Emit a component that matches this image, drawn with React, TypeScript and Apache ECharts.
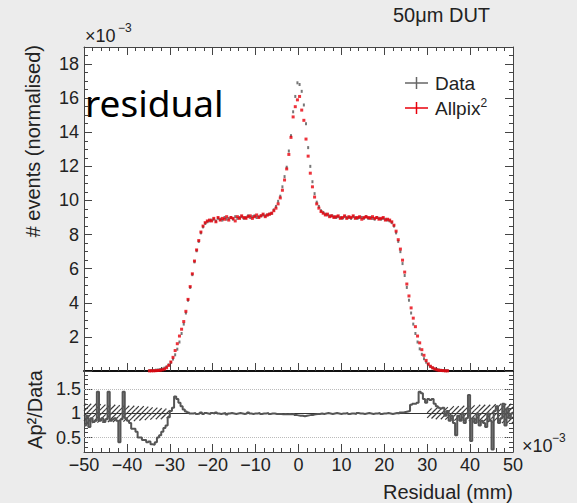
import React, { useEffect, useRef } from 'react';
import * as echarts from 'echarts';

// Main histogram: 0.5 mm bins, centres from -34.75 to 34.75 (values x 10^-3)
const MAIN_START = -34.75;
const BIN = 0.5;
const dataValues = [
  0.02, 0.03, 0.03, 0.05, 0.06, 0.09, 0.12, 0.17, 0.25, 0.36,
  0.5, 0.7, 0.95, 1.28, 1.7, 2.2, 2.75, 3.4, 4.15, 4.9, 5.65, 6.4, 7.05, 7.6, 8.1, 8.45, 8.65, 8.75,
  8.8, 8.85, 8.9, 8.8, 8.95, 8.9, 8.85, 9.0, 8.9, 8.95, 9.0, 8.9, 9.05, 8.95, 9.0, 9.05, 8.95, 9.0, 9.1, 9.0, 9.05, 9.1, 9.0, 9.05, 9.1, 9.15, 9.1, 9.15, 9.2, 9.25,
  9.45, 9.65, 9.95, 10.25, 10.8, 11.4, 11.95, 12.9, 13.8, 15.2, 16.1, 16.9, 16.8, 16.4, 15.6, 14.5, 13.1, 12.0, 11.1, 10.4, 9.9, 9.65, 9.4, 9.3,
  9.2, 9.15, 9.1, 9.1, 9.05, 9.0, 9.05, 9.0, 8.95, 9.05, 9.0, 9.0, 8.95, 9.05, 9.0, 8.95, 9.0, 9.0, 8.95, 9.05, 8.95, 9.0, 8.95, 8.9, 9.0, 8.95, 8.9, 8.95, 8.9, 8.85,
  8.8, 8.7, 8.5, 8.1, 7.6, 7.0, 6.3, 5.6, 4.9, 4.15, 3.4, 2.75, 2.2, 1.7, 1.3, 0.98, 0.72, 0.52, 0.37, 0.26, 0.18, 0.12, 0.08, 0.06, 0.04, 0.03, 0.02, 0.02,
];
const allpixValues = [
  0.01, 0.01, 0.01, 0.02, 0.03, 0.04, 0.07, 0.11, 0.19, 0.33,
  0.53, 0.8, 1.2, 1.6, 2.05, 2.45, 2.9, 3.5, 4.2, 4.95, 5.7, 6.45, 7.1, 7.65, 8.15, 8.5, 8.7, 8.8,
  8.85, 8.8, 8.95, 8.75, 9.0, 8.85, 8.95, 8.9, 9.05, 8.85, 9.0, 8.95, 8.8, 9.05, 8.95, 9.1, 9.0, 8.95, 9.05, 9.1, 8.95, 9.05, 9.15, 9.0, 9.1, 9.2, 9.05, 9.15, 9.2, 9.25,
  9.4, 9.55, 9.8, 10.15, 10.6, 11.2, 11.85, 12.7, 13.7, 14.9, 15.5, 15.9, 16.1, 15.3, 14.7, 13.6, 12.6, 11.6, 10.8, 10.2, 9.8, 9.55, 9.35, 9.25,
  9.15, 9.2, 9.05, 9.1, 9.0, 9.05, 9.1, 8.95, 9.0, 9.1, 8.95, 9.05, 9.0, 9.1, 8.95, 9.0, 9.05, 8.9, 9.0, 9.05, 9.0, 8.95, 9.05, 8.95, 9.0, 8.9, 8.95, 9.0, 8.85, 8.9,
  8.85, 8.75, 8.55, 8.2, 7.7, 7.15, 6.5, 5.8, 5.1, 4.4, 3.7, 3.1, 2.6, 2.05, 1.65, 1.25, 0.92, 0.62, 0.42, 0.28, 0.19, 0.12, 0.07, 0.04, 0.03, 0.02, 0.01, 0.01,
];

// Ratio histogram: 0.5 mm bins, left edges from -50
const RATIO_START = -50;
const ratioValues = [
  0.75, 0.95, 0.72, 0.9, 0.82, 0.85, 1.45, 0.85, 0.9, 0.82,
  0.88, 1.45, 0.85, 0.88, 0.9, 0.85, 0.4, 0.88, 1.45, 0.9,
  0.85, 0.8, 0.68, 0.68, 0.62, 0.5, 0.5, 0.45, 0.45, 0.4,
  0.42, 0.36, 0.35, 0.4, 0.5, 0.55, 0.62, 0.7, 0.75, 0.92,
  1.05, 1.12, 1.35, 1.3, 1.22, 1.15, 1.08, 1.04, 1.02, 1.0,
  1.0, 1.01, 0.99, 1.0, 1.02, 0.99, 1.01, 1.0, 0.99, 1.01,
  1.0, 1.02, 1.0, 0.99, 1.0, 1.01, 0.98, 1.0, 1.01, 1.0,
  0.99, 1.0, 1.01, 1.0, 0.99, 1.0, 1.02, 1.0, 0.99, 1.0,
  1.0, 1.01, 0.99, 1.0, 1.0, 1.01, 0.99, 1.0, 1.0, 0.99,
  0.99, 0.99, 0.98, 0.99, 0.98, 0.99, 0.98, 0.99, 0.97, 0.96,
  0.95, 0.95, 0.94, 0.95, 0.96, 0.97, 0.97, 0.98, 0.99, 0.99,
  1.0, 0.99, 1.0, 1.01, 1.0, 0.99, 1.0, 1.01, 1.0, 0.99,
  1.0, 1.0, 1.01, 0.99, 1.0, 1.0, 0.99, 1.01, 1.0, 1.0,
  0.99, 1.0, 1.01, 1.0, 0.99, 1.0, 1.0, 1.01, 0.99, 1.0,
  1.0, 1.01, 1.0, 0.99, 1.0, 1.01, 1.0, 1.02, 1.02, 1.03,
  1.04, 1.05, 1.18, 1.2, 1.2, 1.22, 1.45, 1.42, 1.3, 1.22,
  1.3, 1.28, 1.3, 1.2, 1.15, 1.12, 1.1, 1.12, 0.95, 1.05,
  0.85, 0.95, 0.8, 0.55, 0.95, 0.85, 1.0, 0.8, 0.9, 1.38,
  0.43, 0.9, 0.8, 1.0, 0.75, 0.85, 0.8, 0.72, 1.0, 0.85,
  0.25, 1.05, 1.15, 0.8, 0.9, 1.2, 0.75, 1.1, 0.9, 1.0,
];

// Hatched uncertainty band (half widths), 1 mm bins
const bandLeftStart = -49.5;
const bandLeftHalf = [0.2, 0.2, 0.2, 0.19, 0.19, 0.18, 0.18, 0.18, 0.17, 0.17, 0.16, 0.16, 0.15, 0.15, 0.14, 0.13, 0.12, 0.12, 0.11, 0.1];
const bandRightStart = 30.5;
const bandRightHalf = [0.1, 0.11, 0.12, 0.12, 0.13, 0.14, 0.15, 0.15, 0.16, 0.16, 0.17, 0.17, 0.18, 0.18, 0.18, 0.19, 0.19, 0.2, 0.2, 0.2];

const ratioLabelValues = [0.5, 1, 1.5];
const ratioMinorValues = [0.3, 0.4, 0.6, 0.7, 0.8, 0.9, 1.1, 1.2, 1.3, 1.4, 1.6, 1.7, 1.8];

const FONT = 'Liberation Sans';
const TXT = '#222';
const AX = '#444';

export default function App() {
  const ref = useRef<HTMLDivElement>(null);
  useEffect(() => {
    const chart = echarts.init(ref.current!, null, { renderer: 'svg' });
    const dataPts = dataValues.map((v, i) => [MAIN_START + i * BIN, v]);
    const allpixPts = allpixValues.map((v, i) => [MAIN_START + i * BIN, v]);
    const ratioPts = ratioValues.map((v, i) => [RATIO_START + i * BIN, v]);
    ratioPts.push([RATIO_START + ratioValues.length * BIN, ratioValues[ratioValues.length - 1]]);
    const bandPts = [
      ...bandLeftHalf.map((h, i) => [bandLeftStart + i, h]),
      ...bandRightHalf.map((h, i) => [bandRightStart + i, h]),
    ];

    const minus = (v: number) => (v < 0 ? '\u2212' + Math.abs(v) : String(v));

    const xCommon = {
      type: 'value', min: -50, max: 50, interval: 10,
      splitLine: { show: false },
      axisTick: { show: true, inside: true, length: 8, lineStyle: { color: AX } },
      minorTick: { show: true, splitNumber: 5, length: 4, lineStyle: { color: AX } },
    };
    const yBase = (grid: number, pos: string) => ({
      type: 'value', gridIndex: grid, position: pos,
      splitLine: { show: false },
    });

    const option: any = {
      animation: false,
      grid: [
        { left: 84, top: 47, width: 429, height: 324, show: true, backgroundColor: '#fff', borderWidth: 0 },
        { left: 84, top: 371, width: 429, height: 81, show: true, backgroundColor: '#fff', borderWidth: 0 },
      ],
      xAxis: [
        { ...xCommon, gridIndex: 0, position: 'bottom', axisLabel: { show: false }, axisLine: { onZero: false, lineStyle: { color: '#111', width: 2 } } },
        { ...xCommon, gridIndex: 0, position: 'top', axisLabel: { show: false }, axisLine: { onZero: false, lineStyle: { color: AX, width: 1 } } },
        {
          ...xCommon, gridIndex: 1, position: 'bottom',
          axisLine: { onZero: false, lineStyle: { color: AX, width: 1 } },
          axisLabel: { show: true, fontFamily: FONT, fontSize: 18, color: TXT, margin: 4, formatter: minus },
        },
      ],
      yAxis: [
        {
          ...yBase(0, 'left'), min: 0, max: 19, interval: 2,
          axisLine: { show: true, onZero: false, lineStyle: { color: AX } },
          axisTick: { show: true, inside: true, length: 8, lineStyle: { color: AX } },
          minorTick: { show: true, splitNumber: 4, length: 4, lineStyle: { color: AX } },
          axisLabel: { fontFamily: FONT, fontSize: 18, color: TXT, margin: 5, showMinLabel: false, showMaxLabel: false,
            formatter: (v: number) => (v > 0 && v < 19 ? String(v) : '') },
        },
        {
          ...yBase(0, 'right'), min: 0, max: 19, interval: 2,
          axisLine: { show: true, onZero: false, lineStyle: { color: AX } },
          axisTick: { show: true, inside: true, length: 8, lineStyle: { color: AX } },
          minorTick: { show: true, splitNumber: 4, length: 4, lineStyle: { color: AX } },
          axisLabel: { show: false },
        },
        {
          ...yBase(1, 'left'), min: 0.2, max: 1.88,
          axisLine: { show: true, onZero: false, lineStyle: { color: AX } },
          axisTick: { show: true, inside: true, length: 8, customValues: ratioLabelValues, lineStyle: { color: AX } },
          axisLabel: { show: true, customValues: ratioLabelValues, fontFamily: FONT, fontSize: 18, color: TXT, margin: 3 },
        },
        {
          ...yBase(1, 'left'), min: 0.2, max: 1.88,
          axisLine: { show: false, onZero: false },
          axisTick: { show: true, inside: true, length: 4, customValues: ratioMinorValues, lineStyle: { color: AX } },
          axisLabel: { show: false },
        },
        {
          ...yBase(1, 'right'), min: 0.2, max: 1.88,
          axisLine: { show: true, onZero: false, lineStyle: { color: AX } },
          axisTick: { show: true, inside: true, length: 8, customValues: ratioLabelValues, lineStyle: { color: AX } },
          axisLabel: { show: false },
        },
        {
          ...yBase(1, 'right'), min: 0.2, max: 1.88,
          axisLine: { show: false, onZero: false },
          axisTick: { show: true, inside: true, length: 4, customValues: ratioMinorValues, lineStyle: { color: AX } },
          axisLabel: { show: false },
        },
      ],
      series: [
        {
          name: 'Data', type: 'scatter', xAxisIndex: 0, yAxisIndex: 0, data: dataPts,
          symbol: 'rect', symbolSize: [2, 3], itemStyle: { color: '#555' }, z: 3,
        },
        {
          name: 'Allpix2', type: 'scatter', xAxisIndex: 0, yAxisIndex: 0, data: allpixPts,
          symbol: 'rect', symbolSize: [3, 3], itemStyle: { color: '#e8000b' }, z: 4,
        },
        {
          name: 'band', type: 'custom', xAxisIndex: 2, yAxisIndex: 2, data: bandPts, z: 2,
          renderItem: (params: any, api: any) => {
            const xc = api.value(0);
            const h = api.value(1);
            const p1 = api.coord([xc - 0.5, 1 + h]);
            const p2 = api.coord([xc + 0.5, 1 - h]);
            const xl = p1[0], yt = p1[1], xr = p2[0], yb = p2[1];
            const s = 5;
            const children: any[] = [];
            for (let c = Math.ceil((xl + yt) / s) * s; c <= xr + yb; c += s) {
              const x0 = Math.max(xl, c - yb);
              const x1 = Math.min(xr, c - yt);
              if (x1 > x0) {
                children.push({
                  type: 'line',
                  shape: { x1: x0, y1: c - x0, x2: x1, y2: c - x1 },
                  style: { stroke: '#3a3a3a', lineWidth: 1.2 },
                });
              }
            }
            return { type: 'group', children };
          },
        },
        {
          name: 'ratio', type: 'line', xAxisIndex: 2, yAxisIndex: 2, data: ratioPts, step: 'end',
          symbol: 'none', lineStyle: { color: '#555', width: 2 }, z: 3,
          markLine: {
            silent: true, symbol: ['none', 'none'], label: { show: false }, z: 1,
            data: [
              { yAxis: 0.5, lineStyle: { type: 'dotted', color: '#bbb', width: 1 } },
              { yAxis: 1.5, lineStyle: { type: 'dotted', color: '#bbb', width: 1 } },
              { yAxis: 1, lineStyle: { type: 'solid', color: '#333', width: 1.2 } },
            ],
          },
        },
      ],
      graphic: [
        { type: 'text', x: 393, y: 15, style: { text: '50\u03bcm DUT', font: `20px "${FONT}"`, fill: TXT, verticalAlign: 'middle' } },
        { type: 'text', x: 85, y: 36, style: { text: '\u00d710', font: `18px "${FONT}"`, fill: TXT, verticalAlign: 'middle' } },
        { type: 'text', x: 118, y: 28, style: { text: '\u22123', font: `12px "${FONT}"`, fill: TXT, verticalAlign: 'middle' } },
        { type: 'text', x: 522, y: 446, style: { text: '\u00d710', font: `18px "${FONT}"`, fill: TXT, verticalAlign: 'middle' } },
        { type: 'text', x: 552, y: 438, style: { text: '\u22123', font: `12px "${FONT}"`, fill: TXT, verticalAlign: 'middle' } },
        { type: 'text', x: 513, y: 492, style: { text: 'Residual (mm)', font: `20px "${FONT}"`, fill: TXT, align: 'right', verticalAlign: 'middle' } },
        { type: 'text', x: 33, y: 45, rotation: Math.PI / 2, style: { text: '# events (normalised)', font: `20px "${FONT}"`, fill: TXT, align: 'right', verticalAlign: 'middle' } },
        { type: 'text', x: 35, y: 370, rotation: Math.PI / 2, style: { text: 'Ap\u00b2/Data', font: `20px "${FONT}"`, fill: TXT, align: 'right', verticalAlign: 'middle' } },
        // legend
        { type: 'line', shape: { x1: 405, y1: 83, x2: 428, y2: 83 }, style: { stroke: '#666', lineWidth: 1.5 } },
        { type: 'line', shape: { x1: 416.5, y1: 77, x2: 416.5, y2: 89 }, style: { stroke: '#666', lineWidth: 1.5 } },
        { type: 'text', x: 435, y: 83, style: { text: 'Data', font: `19px "${FONT}"`, fill: TXT, verticalAlign: 'middle' } },
        { type: 'line', shape: { x1: 405, y1: 108, x2: 428, y2: 108 }, style: { stroke: '#e8000b', lineWidth: 1.5 } },
        { type: 'line', shape: { x1: 416.5, y1: 102, x2: 416.5, y2: 114 }, style: { stroke: '#e8000b', lineWidth: 1.5 } },
        { type: 'text', x: 435, y: 108, style: { text: 'Allpix', font: `19px "${FONT}"`, fill: TXT, verticalAlign: 'middle' } },
        { type: 'text', x: 480.5, y: 103, style: { text: '2', font: `12px "${FONT}"`, fill: TXT, verticalAlign: 'middle' } },
        // overlay word
        { type: 'text', x: 85, y: 84, z: 100, style: { text: 'residual', font: `37px "Noto Sans"`, fill: '#000', verticalAlign: 'top' } },
      ],
    };
    chart.setOption(option);
    return () => chart.dispose();
  }, []);
  return (
    <div
      ref={ref}
      style={{ position: 'fixed', left: 0, top: 0, width: 577, height: 503, background: '#ececec' }}
    />
  );
}
